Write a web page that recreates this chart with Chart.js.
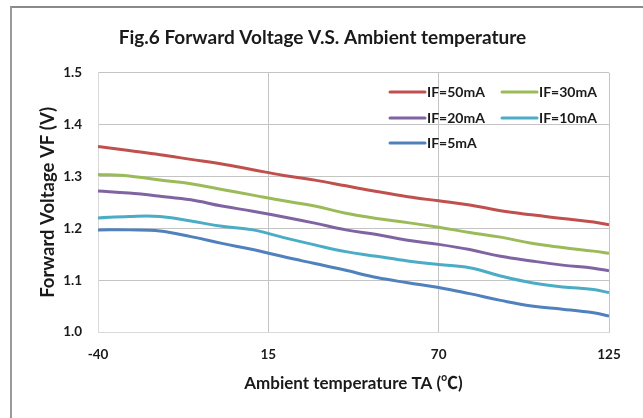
<!DOCTYPE html>
<html>
<head>
<meta charset="utf-8">
<script src="https://cdn.jsdelivr.net/npm/chart.js@4.4.1/dist/chart.umd.min.js"></script>
<style>
  html, body { margin: 0; padding: 0; background: #fff; }
  #wrap { position: relative; width: 643px; height: 418px; }
  #frame { position: absolute; left: 10px; top: 6px; right: 0; bottom: 0;
           border-top: 2px solid #8a8a8a; border-left: 2px solid #9a9a9a; }
  canvas { position: absolute; left: 0; top: 0; }
</style>
</head>
<body>
<div id="wrap">
  <div id="frame"></div>
  <canvas id="chart" width="643" height="418"></canvas>
</div>
<script>
// ── Données ─────────────────────────────────────────────────
const temperatures = [-40, -30, -20, -10, 0, 10, 20, 30, 40, 50, 60, 70, 80, 90, 100, 110, 120, 125];
const xTicks = [-40, 15, 70, 125];

const if50 = [1.358, 1.350, 1.342, 1.333, 1.324, 1.313, 1.302, 1.293, 1.282, 1.271, 1.261, 1.253, 1.245, 1.234, 1.226, 1.219, 1.212, 1.207];
const if30 = [1.304, 1.301, 1.293, 1.286, 1.275, 1.264, 1.253, 1.243, 1.229, 1.219, 1.211, 1.202, 1.192, 1.183, 1.171, 1.163, 1.156, 1.152];
const if20 = [1.272, 1.268, 1.262, 1.255, 1.243, 1.233, 1.222, 1.210, 1.197, 1.188, 1.177, 1.169, 1.159, 1.146, 1.137, 1.129, 1.123, 1.118];
const if10 = [1.220, 1.223, 1.223, 1.214, 1.204, 1.197, 1.182, 1.168, 1.155, 1.146, 1.137, 1.130, 1.124, 1.108, 1.095, 1.087, 1.082, 1.076];
const if5  = [1.197, 1.197, 1.195, 1.184, 1.171, 1.159, 1.145, 1.132, 1.119, 1.105, 1.095, 1.086, 1.074, 1.061, 1.050, 1.044, 1.037, 1.031];

const seriesLabels = ['IF=50mA', 'IF=30mA', 'IF=20mA', 'IF=10mA', 'IF=5mA'];
const seriesValues = [if50, if30, if20, if10, if5];
const seriesColors = ['#C0504D', '#9BBB59', '#8064A2', '#4BACC6', '#4F81BD'];

const FONT = 'Lato, "Noto Sans CJK SC", "DejaVu Sans", sans-serif';

// ── Légende dessinée dans la zone du graphique ──────────────
const legendPos = [
  { x: 390, y: 92 }, { x: 502, y: 92 },
  { x: 390, y: 118 }, { x: 502, y: 118 },
  { x: 390, y: 143 }
];

const legendeInterne = {
  id: 'legendeInterne',
  afterDatasetsDraw(chart) {
    const c = chart.ctx;
    c.save();
    c.font = 'bold 14px ' + FONT;
    c.textBaseline = 'middle';
    chart.data.datasets.forEach((ds, i) => {
      const p = legendPos[i];
      c.strokeStyle = ds.borderColor;
      c.lineWidth = 3;
      c.lineCap = 'round';
      c.beginPath();
      c.moveTo(p.x, p.y);
      c.lineTo(p.x + 35, p.y);
      c.stroke();
      c.fillStyle = '#1a1a1a';
      c.fillText(ds.label, p.x + 37, p.y);
    });
    c.restore();
  }
};

const ctx = document.getElementById('chart').getContext('2d');
const chart = new Chart(ctx, {
  type: 'line',
  data: {
    datasets: seriesLabels.map((lab, i) => ({
      label      : lab,
      data       : temperatures.map((t, k) => ({ x: t, y: seriesValues[i][k] })),
      borderColor: seriesColors[i],
      borderWidth: 3,
      pointRadius: 0,
      tension    : 0.4,
      fill       : false
    }))
  },
  options: {
    responsive: false,
    animation : false,
    layout    : { padding: { left: 36, right: 34, top: 0, bottom: 0 } },
    plugins: {
      legend : { display: false },
      tooltip: { enabled: false },
      title  : {
        display: true,
        text   : 'Fig.6 Forward Voltage V.S. Ambient temperature',
        color  : '#1a1a1a',
        font   : { family: FONT, size: 19, weight: 'bold', lineHeight: 1.2 },
        padding: { top: 26, bottom: 24 }
      }
    },
    scales: {
      x: {
        type : 'linear',
        min  : -40,
        max  : 125,
        afterBuildTicks: s => { s.ticks = xTicks.map(v => ({ value: v })); },
        afterFit: s => { s.height = 86; },
        grid : { color: '#c4c4c4', drawTicks: false },
        border: { color: '#d9d9d9' },
        ticks: { color: '#1a1a1a', padding: 15, maxRotation: 0,
                 font: { family: FONT, size: 13.5, weight: 'bold' } },
        title: { display: true, text: 'Ambient temperature TA (℃)', color: '#1a1a1a',
                 font: { family: FONT, size: 17, weight: 'bold', lineHeight: 1.2 },
                 padding: { top: 0, bottom: 24 } }
      },
      y: {
        min  : 1.0,
        max  : 1.5,
        afterFit: s => { s.width = 62; },
        grid : { color: '#c4c4c4', drawTicks: false },
        border: { color: '#d9d9d9' },
        ticks: { color: '#1a1a1a', padding: 16, stepSize: 0.1,
                 font: { family: FONT, size: 13.5, weight: 'bold' },
                 callback: v => v.toFixed(1) },
        title: { display: true, text: 'Forward Voltage VF (V)', color: '#1a1a1a',
                 font: { family: FONT, size: 18.5, weight: 'bold', lineHeight: 1.2 },
                 padding: { top: 1, bottom: 0 } }
      }
    }
  },
  plugins: [legendeInterne]
});
</script>
</body>
</html>
